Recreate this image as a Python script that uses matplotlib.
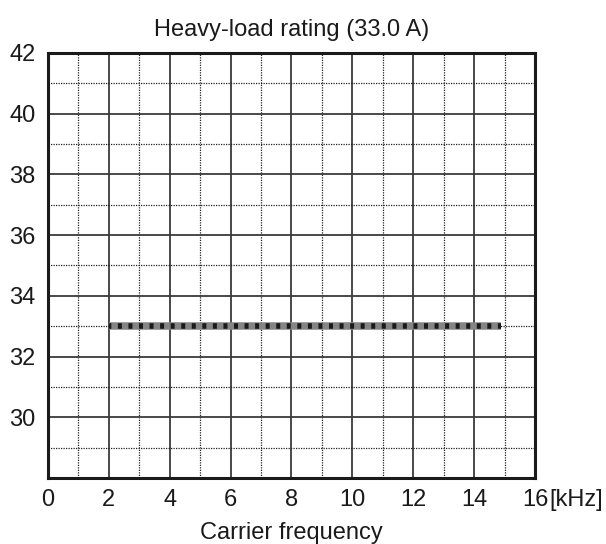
import matplotlib.pyplot as plt
from matplotlib.ticker import MultipleLocator

plt.rcParams["font.family"] = ["Liberation Sans", "DejaVu Sans"]

freq = [2, 14.9]
current = [33.0, 33.0]
x_ticks = [0, 2, 4, 6, 8, 10, 12, 14, 16]
y_ticks = [30, 32, 34, 36, 38, 40, 42]

fig = plt.figure(figsize=(6.06, 5.44), dpi=100)
ax = fig.add_axes([0.0792, 0.1213, 0.8036, 0.7813])

ax.set_xlim(0, 16)
ax.set_ylim(28, 42)
ax.set_xticks(x_ticks)
ax.set_yticks(y_ticks)
ax.set_xticklabels([str(t) for t in x_ticks])
ax.xaxis.set_minor_locator(MultipleLocator(1))
ax.yaxis.set_minor_locator(MultipleLocator(1))
ax.grid(which="major", color="#3a3a3a", linewidth=1.3, linestyle="-")
ax.grid(which="minor", color="#222222", linewidth=0.9, linestyle=(0, (1, 1)))
ax.set_axisbelow(True)
ax.tick_params(which="both", length=0, labelsize=17, colors="#1a1a1a")
ax.tick_params(axis="y", pad=9)
ax.tick_params(axis="x", pad=8)

for s in ax.spines.values():
    s.set_linewidth(2.2)
    s.set_color("#1a1a1a")

ax.plot(freq, current, color="#858585", linewidth=5.4, solid_capstyle="butt", zorder=3)
ax.plot(freq, current, color="#1a1a1a", linewidth=4.0, linestyle=(0.3, (0.72, 1.18)),
        dash_capstyle="butt", zorder=4)

# unit after the last tick label
ax.annotate("[kHz]", xy=(16, 28), xytext=(10.5, -8), textcoords="offset points",
            fontsize=17, ha="left", va="top", color="#1a1a1a")

ax.set_title("Heavy-load rating (33.0 A)", fontsize=17, pad=12, color="#1a1a1a")
ax.set_xlabel("Carrier frequency", fontsize=17, labelpad=8, color="#1a1a1a")

fig.savefig("out.png", dpi=100)
